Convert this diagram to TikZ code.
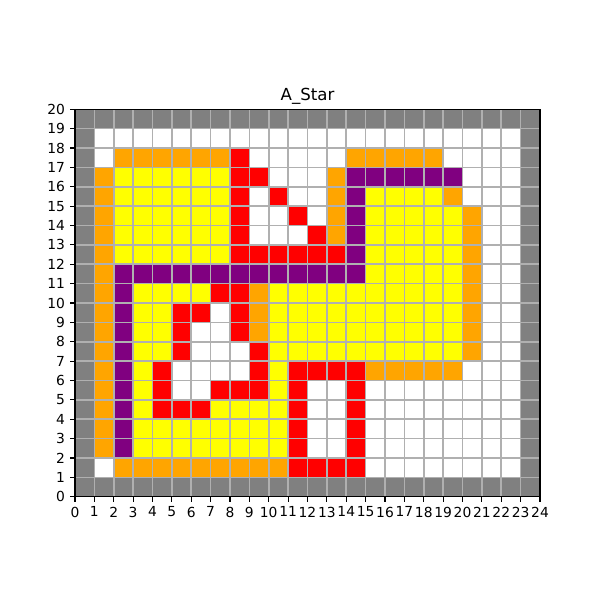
\documentclass[tikz,border=0pt]{standalone}
\usepackage{fontspec}
\setmainfont{DejaVu Sans}
\definecolor{wallgray}{HTML}{808080}
\definecolor{cellorange}{HTML}{FFA500}
\definecolor{cellyellow}{HTML}{FFFF00}
\definecolor{cellred}{HTML}{FF0000}
\definecolor{cellpurple}{HTML}{800080}
\definecolor{gridgray}{HTML}{B0B0B0}
\begin{document}
\begin{tikzpicture}[x=13.95bp,y=13.95bp,
  ticklabel/.style={inner sep=0pt,font=\fontsize{10}{12}\selectfont},
  tickmark/.style={black,line width=0.8bp},
  gridline/.style={gridgray,line width=1.1bp},
  spine/.style={black,line width=0.8bp}]
\useasboundingbox (-3.871,-5.329) rectangle (27.097,25.639);
% walls and free space
\fill[wallgray] (0,0) rectangle (24,20);
\fill[white] (1,1) rectangle (23,19);
% orange
\foreach \x/\y/\w/\h in {2/17/6/1,14/17/5/1,1/2/1/15,13/13/1/4,19/15/1/1,20/7/1/8,9/8/1/3,15/6/5/1,2/1/9/1}
  \fill[cellorange] (\x,\y) rectangle ++(\w,\h);
% yellow
\foreach \x/\y/\w/\h in {2/12/6/5,15/15/4/1,15/11/5/4,10/7/10/4,3/10/4/1,3/7/2/3,3/4/1/3,3/2/8/2,7/4/4/1,10/5/1/2}
  \fill[cellyellow] (\x,\y) rectangle ++(\w,\h);
% red
\foreach \x/\y/\w/\h in {8/12/1/6,9/16/1/1,10/15/1/1,11/14/1/1,12/13/1/1,9/12/5/1,7/10/2/1,5/9/2/1,8/8/1/2,5/7/1/2,9/5/1/3,4/4/1/3,7/5/2/1,5/4/2/1,11/1/1/6,12/6/3/1,14/1/1/5,12/1/2/1}
  \fill[cellred] (\x,\y) rectangle ++(\w,\h);
% purple
\foreach \x/\y/\w/\h in {14/16/6/1,14/12/1/4,2/11/13/1,2/2/1/9}
  \fill[cellpurple] (\x,\y) rectangle ++(\w,\h);
% grid
\foreach \i in {1,...,23} \draw[gridline] (\i,0) -- (\i,20);
\foreach \j in {1,...,19} \draw[gridline] (0,\j) -- (24,\j);
% spines
\draw[spine] (0,0) rectangle (24,20);
% ticks and labels
\foreach \i in {0,...,24}{
  \draw[tickmark] (\i,0) -- ++(0,-3.5bp);
  \node[ticklabel,anchor=north] (xt\i) at ([yshift=-7bp]\i,0) {\i};
}
\foreach \j in {0,...,20}{
  \draw[tickmark] (0,\j) -- ++(-3.5bp,0);
  \node[ticklabel,anchor=east] (yt\j) at ([xshift=-7bp]0,\j) {\j};
}
\node[inner sep=0pt,anchor=base,font=\fontsize{12}{14}\selectfont] (title) at ([yshift=6bp]12,20) {A\_Star};
\end{tikzpicture}
\end{document}
